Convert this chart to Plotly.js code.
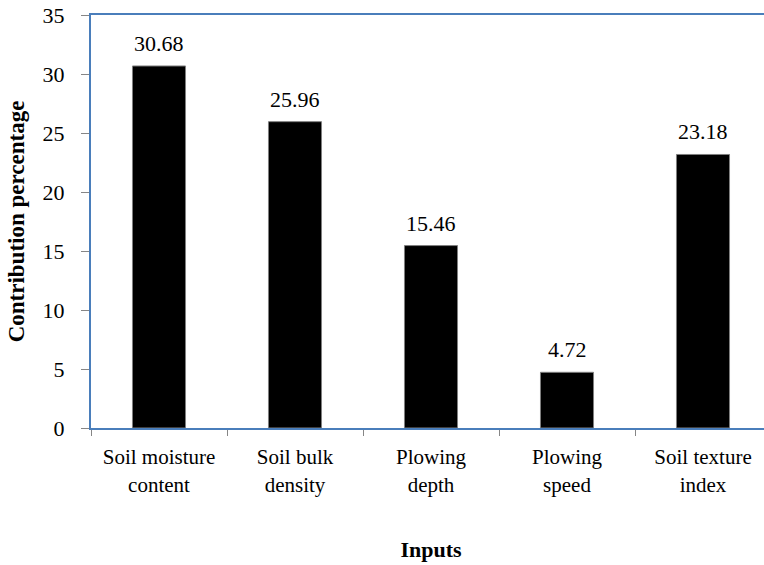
<!DOCTYPE html>
<html>
<head>
<meta charset="utf-8">
<script src="https://cdn.plot.ly/plotly-3.0.1.min.js"></script>
<style>
  html, body { margin: 0; padding: 0; background: #ffffff; overflow: hidden; }
  #chart { width: 780px; height: 565px; }
</style>
</head>
<body>
<div id="chart"></div>
<script>
// Input variables and their contribution (%) to the model output
const categories = [
  'Soil moisture<br>content',
  'Soil bulk<br>density',
  'Plowing<br>depth',
  'Plowing<br>speed',
  'Soil texture<br>index'
];
const contribution = [30.68, 25.96, 15.46, 4.72, 23.18];
const yTicks = [0, 5, 10, 15, 20, 25, 30, 35];

const serif = '"Liberation Serif", "Times New Roman", Times, serif';
const axisBlue = '#4a7ebb';
const tickGrey = '#868686';

const barTrace = {
  type: 'bar',
  x: categories,
  y: contribution,
  width: 0.39,
  marker: { color: '#000000', line: { color: '#7f7f7f', width: 1 } },
  hoverinfo: 'x+y'
};

// value labels sitting above each bar
const valueLabels = categories.map((c, i) => ({
  x: c,
  y: contribution[i],
  xref: 'x',
  yref: 'y',
  text: contribution[i].toFixed(2),
  showarrow: false,
  yanchor: 'bottom',
  yshift: 8,
  font: { family: serif, size: 22, color: '#000000' }
}));

const layout = {
  width: 780,
  height: 565,
  margin: { l: 91, r: 9, t: 15, b: 137 },
  paper_bgcolor: '#ffffff',
  plot_bgcolor: '#ffffff',
  showlegend: false,
  font: { family: serif, size: 21, color: '#000000' },
  xaxis: {
    type: 'category',
    showline: true,
    linecolor: axisBlue,
    linewidth: 2,
    mirror: true,
    showgrid: false,
    zeroline: false,
    ticks: 'outside',
    tickson: 'boundaries',
    ticklen: 6,
    tickwidth: 1,
    tickcolor: tickGrey,
    ticklabelstandoff: 9,
    tickfont: { family: serif, size: 21, color: '#000000' },
    title: {
      text: '<b>Inputs</b>',
      font: { family: serif, size: 22, color: '#000000' },
      standoff: 46
    },
    automargin: false
  },
  yaxis: {
    range: [0, 35],
    tickvals: yTicks,
    ticktext: yTicks.map(String),
    showline: true,
    linecolor: axisBlue,
    linewidth: 2,
    mirror: true,
    showgrid: false,
    zeroline: false,
    ticks: 'outside',
    ticklen: 8,
    tickwidth: 1,
    tickcolor: tickGrey,
    ticklabelstandoff: 12,
    tickfont: { family: serif, size: 22, color: '#000000' },
    title: {
      text: '<b>Contribution percentage</b>',
      font: { family: serif, size: 23, color: '#000000' },
      standoff: 12
    },
    automargin: false
  },
  annotations: valueLabels
};

Plotly.newPlot('chart', [barTrace], layout, { displayModeBar: false, staticPlot: true });
</script>
</body>
</html>
